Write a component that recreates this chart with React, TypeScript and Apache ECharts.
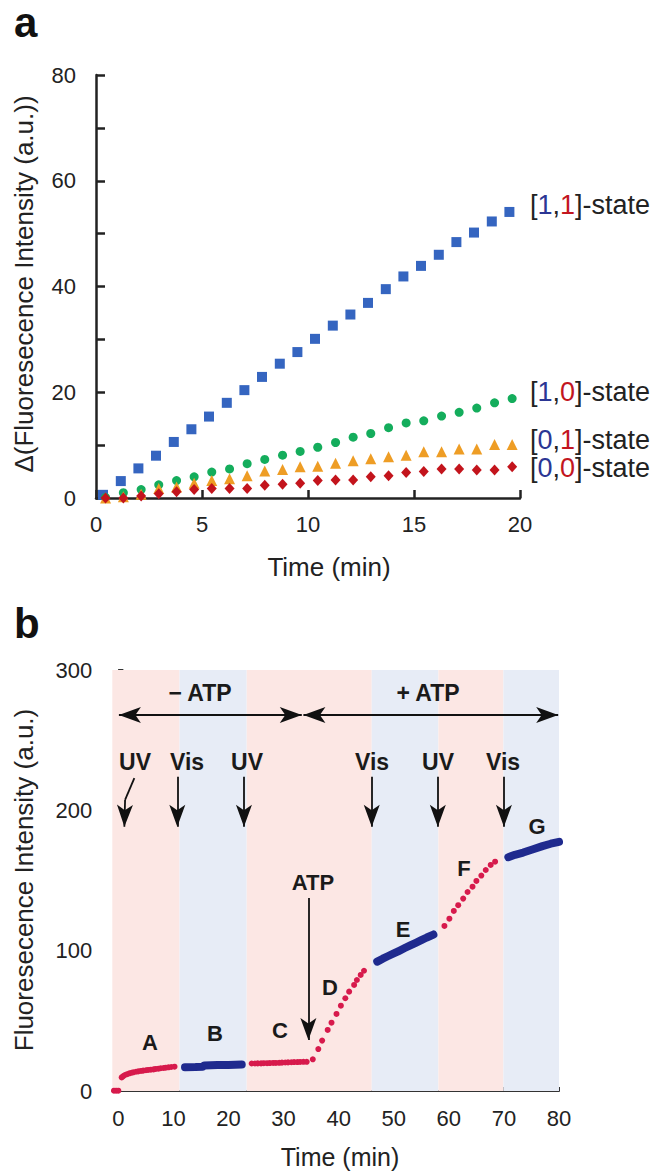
import React, { useEffect, useRef } from "react";
import * as echarts from "echarts";

// ---------- Panel a data ----------
const timeA = [0.33, 1.17, 2.0, 2.83, 3.67, 4.5, 5.33, 6.17, 7.0, 7.83, 8.67, 9.5, 10.33, 11.17, 12.0, 12.83, 13.67, 14.5, 15.33, 16.17, 17.0, 17.83, 18.67, 19.5];
const timeB = [0.45, 1.29, 2.13, 2.96, 3.8, 4.63, 5.46, 6.3, 7.13, 7.96, 8.8, 9.63, 10.46, 11.3, 12.13, 12.96, 13.8, 14.63, 15.46, 16.3, 17.13, 17.96, 18.8, 19.63];
const state11 = [0.6, 3.2, 5.6, 8.0, 10.6, 13.0, 15.4, 18.0, 20.4, 22.9, 25.4, 27.6, 30.1, 32.6, 34.7, 36.9, 39.5, 41.9, 43.9, 46.0, 48.4, 50.2, 52.3, 54.1];
const state10 = [0.1, 1.0, 1.6, 2.5, 3.3, 4.0, 4.9, 5.5, 6.5, 7.3, 8.1, 8.8, 9.6, 10.5, 11.5, 12.2, 13.3, 14.2, 14.6, 15.5, 16.2, 17.0, 18.0, 18.8];
const state01 = [0.0, 0.25, 0.7, 1.8, 2.1, 2.8, 3.3, 3.65, 4.2, 5.1, 5.4, 5.9, 6.0, 6.55, 7.06, 7.4, 7.8, 8.07, 8.76, 8.76, 9.26, 9.26, 10.1, 10.1];
const state00 = [0.0, 0.0, 0.4, 0.8, 1.2, 1.6, 1.8, 1.8, 1.8, 2.4, 2.6, 2.8, 3.3, 3.4, 3.4, 4.0, 4.2, 4.8, 5.0, 5.5, 5.5, 5.3, 5.3, 5.9];

// ---------- Panel b data ([time, intensity]) ----------
const segStart = [[-0.8, 0.2], [-0.4, 0.2], [0.0, 0.2]];
const segA = [[0.6, 9.7], [0.9, 10.6], [1.2, 11.4], [1.6, 12.0], [2.0, 12.6], [2.4, 13.0], [2.7, 13.3], [3.2, 13.7], [3.6, 14.0], [4.1, 14.3], [4.5, 14.5], [5.0, 14.8], [5.4, 15.0], [5.9, 15.2], [6.4, 15.4], [6.8, 15.7], [7.3, 15.9], [7.7, 16.2], [8.2, 16.4], [8.6, 16.6], [9.1, 16.9], [9.6, 17.1], [10.2, 17.3]];
const segB = [[12.1, 17.0], [14.0, 17.1], [15.3, 17.3], [15.6, 18.2], [18.0, 18.5], [20.0, 18.6], [22.4, 18.8]];
const segC = [[24.2, 19.6], [24.8, 19.6], [25.3, 19.7], [25.9, 19.7], [26.4, 19.8], [27.0, 19.8], [27.5, 19.9], [28.1, 20.0], [28.6, 20.0], [29.2, 20.1], [29.7, 20.2], [30.3, 20.3], [30.8, 20.4], [31.4, 20.5], [31.9, 20.6], [32.5, 20.6], [33.0, 20.7], [33.6, 20.8], [34.2, 20.8]];
const segD = [[35.3, 22.6], [36.3, 29.9], [37.0, 35.9], [38.0, 43.5], [38.7, 48.7], [39.6, 54.9], [40.4, 60.8], [41.2, 66.1], [41.9, 70.8], [42.8, 75.6], [43.3, 79.1], [44.0, 82.7], [44.6, 85.7]];
const segE = [[47.0, 92.2], [48.0, 94.3], [49.0, 96.2], [50.0, 98.0], [51.0, 99.9], [52.0, 101.9], [53.0, 103.8], [54.0, 105.6], [55.0, 107.5], [56.0, 109.4], [57.2, 111.5]];
const segF = [[59.2, 117.6], [60.1, 122.8], [60.9, 128.3], [61.7, 132.4], [62.6, 137.1], [63.4, 141.8], [64.3, 145.6], [65.0, 149.7], [65.9, 153.5], [66.7, 157.5], [67.6, 161.1], [68.4, 163.4]];
const segG = [[70.8, 166.6], [72.0, 168.3], [73.5, 169.9], [75.3, 172.3], [77.0, 174.5], [78.5, 176.2], [80.0, 177.6]];

// illumination bands: [from, to, kind]
const bands: [number, number, string][] = [[-1.1, 11.1, "UV"], [11.1, 23.3, "Vis"], [23.3, 46.0, "UV"], [46.0, 58.1, "Vis"], [58.1, 69.9, "UV"], [69.9, 80.0, "Vis"]];
// light-switch arrows (time) and labels
const switchTimes = [10.7, 22.8, 46.0, 58.0, 70.0];
const atpTime = 34.5;
const xTickValues = [0, 10, 20, 30, 40, 50, 60, 70, 80];

const FONT = "'Liberation Sans', Arial, Helvetica, sans-serif";
const INK = "#222";
const RED = "#d71a4c";
const NAVY = "#1f2a8e";

export default function App() {
  const ref = useRef<HTMLDivElement>(null);
  useEffect(() => {
    document.body.style.margin = "0";
    const chart = echarts.init(ref.current!, null, { renderer: "svg" });
    const pair = (a: number[], b: number[]) => a.map((t, i) => [t, b[i]]);
    const arrowLines: any[] = [];
    // double arrows
    arrowLines.push([{ coord: [0.1, 268], symbol: "arrow" }, { coord: [33.3, 268], symbol: "arrow" }]);
    arrowLines.push([{ coord: [33.6, 268], symbol: "arrow" }, { coord: [79.85, 268], symbol: "arrow" }]);
    switchTimes.forEach((t) => {
      arrowLines.push([{ coord: [t, 224], symbol: "none" }, { coord: [t, 188.3], symbol: "arrow" }]);
    });
    arrowLines.push([{ coord: [2.9, 223], symbol: "none" }, { coord: [1.22, 207.4], symbol: "none" }]);
    arrowLines.push([{ coord: [1.22, 207.4], symbol: "none" }, { coord: [1.09, 188.3], symbol: "arrow" }]);
    arrowLines.push([{ coord: [atpTime, 137.6], symbol: "none" }, { coord: [atpTime, 36.4], symbol: "arrow" }]);

    const txt = (text: string, x: number, y: number, size: number, extra: any = {}) => ({
      type: "text",
      x,
      y,
      z: 100,
      silent: true,
      ...extra,
      style: { text, fontSize: size, fontFamily: FONT, fill: INK, align: "center", verticalAlign: "middle", ...(extra.style || {}) },
    });
    const ann = (text: string, x: number, y: number, size: number) =>
      txt(text, x, y, size, { style: { fontWeight: "bold", fill: "#1a1a1a" } });
    const SZ = 27;
    const stateRich = {
      k: { fontSize: SZ, fontFamily: FONT, fill: INK, color: INK },
      b: { fontSize: SZ, fontFamily: FONT, fill: "#2b3694", color: "#2b3694" },
      r: { fontSize: SZ, fontFamily: FONT, fill: "#c3161f", color: "#c3161f" },
    };
    const stateLabel = (a: string, b: string, y: number) => ({
      type: "text",
      x: 530,
      y,
      z: 100,
      silent: true,
      style: {
        text: `{k|[}{b|${a}}{k|,}{r|${b}}{k|]-state}`,
        rich: stateRich,
        align: "left",
        verticalAlign: "middle",
        fontSize: SZ,
        fontFamily: FONT,
      },
    });

    const axisCommon = {
      axisLine: { show: true, lineStyle: { color: INK, width: 2.5 } },
      splitLine: { show: false },
    };
    const dot = (color: string) => ({ color, opacity: 1 });

    chart.setOption({
      animation: false,
      textStyle: { fontFamily: FONT },
      grid: [
        { left: 96, top: 75, width: 424, height: 423, containLabel: false },
        { left: 112.3, top: 670, width: 446.7, height: 421, containLabel: false },
      ],
      xAxis: [
        {
          gridIndex: 0, type: "value", min: 0, max: 20, interval: 5, ...axisCommon,
          axisTick: { show: true, inside: true, length: 8, lineStyle: { color: INK, width: 2.5 } },
          axisLabel: { fontSize: 22, color: INK, margin: 15, fontFamily: FONT },
        },
        {
          gridIndex: 1, type: "value", min: -1.1, max: 80,
          axisLine: { show: true, lineStyle: { color: "#333", width: 2 } },
          splitLine: { show: false },
          axisTick: { show: true, inside: true, length: 4, customValues: xTickValues, lineStyle: { color: "#333", width: 2 } },
          axisLabel: { fontSize: 22, color: INK, margin: 16, fontFamily: FONT, customValues: xTickValues },
        },
      ],
      yAxis: [
        {
          gridIndex: 0, type: "value", min: 0, max: 80, interval: 10, ...axisCommon,
          axisTick: { show: true, inside: true, length: 9, lineStyle: { color: INK, width: 2.5 } },
          axisLabel: { fontSize: 22, color: INK, margin: 20, fontFamily: FONT, formatter: (v: number) => (v % 20 === 0 ? String(v) : "") },
        },
        {
          gridIndex: 1, type: "value", min: 0, max: 300, interval: 50,
          axisLine: { show: true, lineStyle: { color: "#333", width: 2 } },
          splitLine: { show: false },
          axisTick: { show: true, inside: true, length: 5, lineStyle: { color: "#333", width: 2 } },
          axisLabel: { fontSize: 22, color: INK, margin: 20, fontFamily: FONT, formatter: (v: number) => (v % 100 === 0 ? String(v) : "") },
        },
      ],
      series: [
        { name: "[1,1]", type: "scatter", xAxisIndex: 0, yAxisIndex: 0, symbol: "rect", symbolSize: 10, data: pair(timeA, state11), itemStyle: dot("#3565c0") },
        { name: "[1,0]", type: "scatter", xAxisIndex: 0, yAxisIndex: 0, symbol: "circle", symbolSize: 9, data: pair(timeB, state10), itemStyle: dot("#14ad5c") },
        { name: "[0,1]", type: "scatter", xAxisIndex: 0, yAxisIndex: 0, symbol: "triangle", symbolSize: 11, data: pair(timeB, state01), itemStyle: dot("#ee9d25") },
        { name: "[0,0]", type: "scatter", xAxisIndex: 0, yAxisIndex: 0, symbol: "diamond", symbolSize: [10, 11], data: pair(timeB, state00), itemStyle: dot("#c3141c") },
        {
          name: "bands", type: "line", xAxisIndex: 1, yAxisIndex: 1, data: [[-1, 0]], showSymbol: false, symbol: "none",
          lineStyle: { opacity: 0 }, z: 0, silent: true,
          markArea: {
            silent: true,
            label: { show: false },
            data: bands.map(([a, b, k]) => [
              { xAxis: a, itemStyle: { color: k === "UV" ? "#fce7e4" : "#e7ecf6" } },
              { xAxis: b },
            ]),
          },
        },
        { name: "start", type: "scatter", xAxisIndex: 1, yAxisIndex: 1, symbol: "circle", symbolSize: 6, data: segStart, itemStyle: dot(RED), z: 3, clip: false },
        { name: "A", type: "scatter", xAxisIndex: 1, yAxisIndex: 1, symbol: "circle", symbolSize: 6, data: segA, itemStyle: dot(RED), z: 3 },
        { name: "B", type: "line", xAxisIndex: 1, yAxisIndex: 1, data: segB, showSymbol: false, symbol: "none", lineStyle: { color: NAVY, width: 8, cap: "round", join: "round" }, z: 3 },
        { name: "C", type: "scatter", xAxisIndex: 1, yAxisIndex: 1, symbol: "circle", symbolSize: 6, data: segC, itemStyle: dot(RED), z: 3 },
        { name: "D", type: "scatter", xAxisIndex: 1, yAxisIndex: 1, symbol: "circle", symbolSize: 6, data: segD, itemStyle: dot(RED), z: 3 },
        { name: "E", type: "line", xAxisIndex: 1, yAxisIndex: 1, data: segE, showSymbol: false, symbol: "none", lineStyle: { color: NAVY, width: 8, cap: "round", join: "round" }, z: 3 },
        { name: "F", type: "scatter", xAxisIndex: 1, yAxisIndex: 1, symbol: "circle", symbolSize: 6, data: segF, itemStyle: dot(RED), z: 3 },
        { name: "G", type: "line", xAxisIndex: 1, yAxisIndex: 1, data: segG, showSymbol: false, symbol: "none", lineStyle: { color: NAVY, width: 8, cap: "round", join: "round" }, z: 3 },
        {
          name: "arrows", type: "line", xAxisIndex: 1, yAxisIndex: 1, data: [[-1, 0]], showSymbol: false, symbol: "none",
          lineStyle: { opacity: 0 }, z: 4, silent: true,
          markLine: {
            silent: true,
            symbol: ["none", "arrow"],
            symbolSize: [12, 22],
            label: { show: false },
            lineStyle: { color: "#111", width: 1.8, type: "solid" },
            emphasis: { disabled: true },
            data: arrowLines,
          },
        },
      ],
      graphic: [
        txt("a", 14, 22, 42, { style: { fontWeight: "bold", align: "left", fill: "#111" } }),
        txt("b", 14, 623, 42, { style: { fontWeight: "bold", align: "left", fill: "#111" } }),
        txt("Δ(Fluoresecence Intensity (a.u.))", 24, 284, 26, { rotation: Math.PI / 2 }),
        txt("Time (min)", 329, 567, 26),
        txt("Fluoresecence Intensity (a.u.)", 24, 880, 26, { rotation: Math.PI / 2 }),
        txt("Time (min)", 340, 1157, 25),
        stateLabel("1", "1", 205),
        stateLabel("1", "0", 392),
        stateLabel("0", "1", 440),
        stateLabel("0", "0", 468),
        ann("− ATP", 200, 693, 23),
        ann("+ ATP", 428, 693, 23),
        ann("UV", 135, 762, 23),
        ann("Vis", 187, 762, 23),
        ann("UV", 247, 762, 23),
        ann("Vis", 372, 762, 23),
        ann("UV", 438, 762, 23),
        ann("Vis", 503, 762, 23),
        ann("A", 150, 1042, 22),
        ann("B", 215, 1033, 22),
        ann("C", 280, 1030, 22),
        ann("ATP", 313, 882, 22),
        ann("D", 330, 987, 22),
        ann("E", 403, 929, 22),
        ann("F", 464, 868, 22),
        ann("G", 537, 826, 22),
      ],
    });
    return () => chart.dispose();
  }, []);
  return <div ref={ref} style={{ width: 657, height: 1174 }} />;
}
